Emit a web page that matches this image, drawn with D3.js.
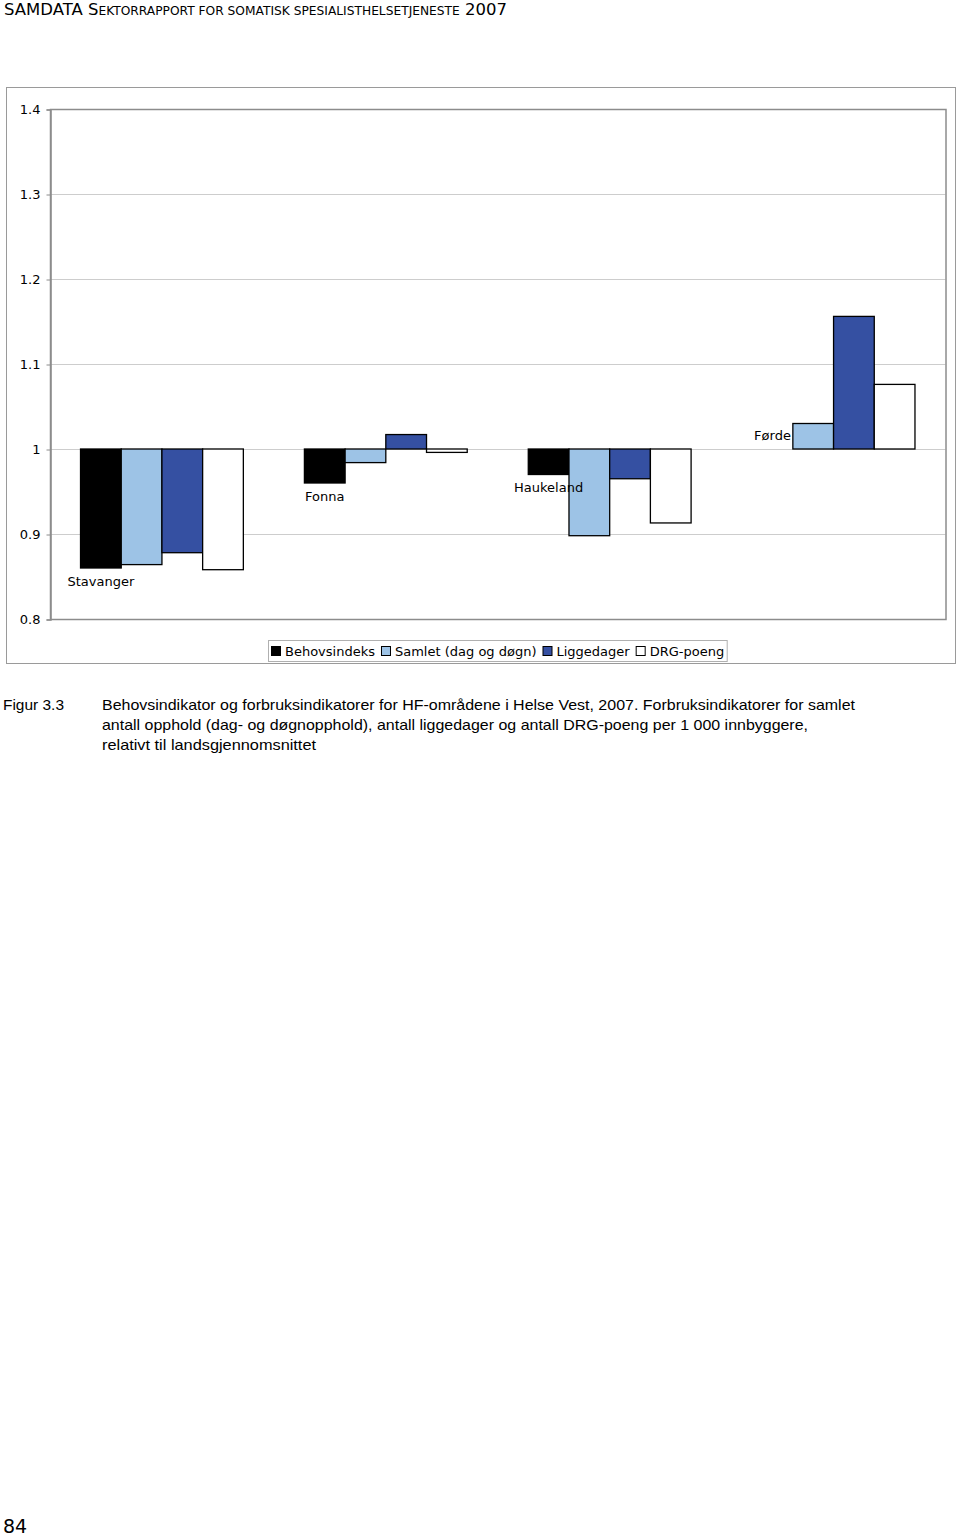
<!DOCTYPE html>
<html>
<head>
<meta charset="utf-8">
<script src="https://cdn.jsdelivr.net/npm/d3@7"></script>
<style>
  html, body { margin: 0; padding: 0; background: #fff; }
  svg { display: block; }
</style>
</head>
<body>
<script>
// ---- data ----
const categories = ["Stavanger", "Fonna", "Haukeland", "Førde"];
const seriesNames = ["Behovsindeks", "Samlet (dag og døgn)", "Liggedager", "DRG-poeng"];
const behovsindeks = [0.860, 0.960, 0.970, 1.000];
const samlet       = [0.864, 0.984, 0.898, 1.030];
const liggedager   = [0.878, 1.017, 0.965, 1.156];
const drgPoeng     = [0.858, 0.996, 0.913, 1.076];
const yTicks = [0.8, 0.9, 1, 1.1, 1.2, 1.3, 1.4];
const yTickLabels = ["0.8", "0.9", "1", "1.1", "1.2", "1.3", "1.4"];
const seriesColors = ["#000000", "#9dc3e6", "#3550a2", "#ffffff"];

const headerText = ["SAMDATA S", "EKTORRAPPORT FOR SOMATISK SPESIALISTHELSETJENESTE", " 2007"];
const captionLabel = "Figur 3.3";
const captionLines = [
  "Behovsindikator og forbruksindikatorer for HF-områdene i Helse Vest, 2007. Forbruksindikatorer for samlet",
  "antall opphold (dag- og døgnopphold), antall liggedager og antall DRG-poeng per 1 000 innbyggere,",
  "relativt til landsgjennomsnittet"
];
const pageNumber = "84";

const seriesValues = [behovsindeks, samlet, liggedager, drgPoeng];

// ---- layout ----
const W = 960, H = 1537;
const svg = d3.select("body").append("svg").attr("width", W).attr("height", H);
svg.append("rect").attr("width", W).attr("height", H).attr("fill", "#fff");

const font = "'DejaVu Sans', Verdana, sans-serif";

// header
const hdr = svg.append("text").attr("x", 4).attr("y", 15)
  .attr("font-family", font).attr("fill", "#000")
  .attr("textLength", 503).attr("lengthAdjust", "spacingAndGlyphs");
hdr.append("tspan").attr("font-size", 15.5).text(headerText[0]);
hdr.append("tspan").attr("font-size", 11.5).text(headerText[1]);
hdr.append("tspan").attr("font-size", 15.5).text(headerText[2]);

// chart outer box
svg.append("rect").attr("x", 6.5).attr("y", 87.5).attr("width", 949).attr("height", 576)
  .attr("fill", "#fff").attr("stroke", "#9a9a9a").attr("stroke-width", 1);

const plot = { left: 50, right: 945.5, top: 109, bottom: 619 };

const y = d3.scaleLinear().domain([0.8, 1.4]).range([plot.bottom, plot.top]);
const x0 = d3.scaleBand().domain(categories).range([plot.left, plot.right]).paddingInner(0).paddingOuter(0);
// Excel gap width 150%: band = 4 bars + 1.5 bar
const barW = x0.bandwidth() / 5.5;
const x1 = d3.scaleBand().domain(d3.range(4)).range([0.75 * barW, 4.75 * barW]).padding(0);

const g = svg.append("g");

// gridlines
g.selectAll("line.grid").data(yTicks).join("line")
  .attr("x1", plot.left).attr("x2", plot.right)
  .attr("y1", d => Math.round(y(d)) + 0.5).attr("y2", d => Math.round(y(d)) + 0.5)
  .attr("stroke", "#cdcdcd").attr("stroke-width", 1.2);

// plot border
g.append("rect").attr("x", plot.left + 0.5).attr("y", plot.top + 0.5)
  .attr("width", plot.right - plot.left).attr("height", plot.bottom - plot.top)
  .attr("fill", "none").attr("stroke", "#8c8c8c").attr("stroke-width", 1.5);

// y axis
const yAxis = d3.axisLeft(y).tickValues(yTicks).tickFormat((d, i) => yTickLabels[i])
  .tickSize(4).tickPadding(6);
const ax = svg.append("g").attr("transform", `translate(${plot.left + 0.5},0.5)`).call(yAxis);
ax.select(".domain").attr("stroke", "#8c8c8c").attr("stroke-width", 1.5);
ax.selectAll(".tick line").attr("stroke", "#8c8c8c");
ax.selectAll(".tick text").attr("font-family", font).attr("font-size", 13).attr("fill", "#000");

// bars
const base = y(1);
categories.forEach((cat, ci) => {
  seriesValues.forEach((vals, si) => {
    const v = vals[ci];
    const yv = y(v);
    g.append("rect")
      .attr("x", x0(cat) + x1(si))
      .attr("y", Math.min(yv, base))
      .attr("width", x1.bandwidth())
      .attr("height", Math.abs(yv - base))
      .attr("fill", seriesColors[si])
      .attr("stroke", "#000").attr("stroke-width", 1.3);
  });
  // category data label on Behovsindeks bar
  const v = behovsindeks[ci];
  const yv = y(v);
  const ly = v < 1 ? yv + 13 : yv - 14;
  g.append("text")
    .attr("x", x0(cat) + x1(0) + x1.bandwidth() / 2)
    .attr("y", ly)
    .attr("dy", "0.35em")
    .attr("text-anchor", "middle")
    .attr("font-family", font).attr("font-size", 13).attr("fill", "#000")
    .text(cat);
});

// legend
const leg = svg.append("g");
const legBox = leg.append("rect").attr("y", 640.5).attr("height", 21)
  .attr("fill", "#fff").attr("stroke", "#b0b0b0").attr("stroke-width", 1);
let lx = 271;
seriesNames.forEach((name, i) => {
  leg.append("rect").attr("x", lx + 0.5).attr("y", 646.5).attr("width", 9).attr("height", 9)
    .attr("fill", seriesColors[i]).attr("stroke", "#000").attr("stroke-width", 1);
  const t = leg.append("text").attr("x", lx + 14).attr("y", 651).attr("dy", "0.35em")
    .attr("font-family", font).attr("font-size", 13).attr("fill", "#000").text(name);
  const w = t.node().getComputedTextLength();
  lx += 14 + w + 6;
});
legBox.attr("x", 268.5).attr("width", lx - 6 + 3 - 268.5);

// caption
const capFont = "'Liberation Sans', Arial, sans-serif";
svg.append("text").attr("x", 3).attr("y", 710)
  .attr("font-family", capFont).attr("font-size", 15).attr("fill", "#000")
  .attr("textLength", 61).attr("lengthAdjust", "spacingAndGlyphs")
  .text(captionLabel);
const capWidths = [753, 706, 214];
captionLines.forEach((line, i) => {
  svg.append("text").attr("x", 102).attr("y", 710 + i * 20)
    .attr("font-family", capFont).attr("font-size", 15).attr("fill", "#000")
    .attr("textLength", capWidths[i]).attr("lengthAdjust", "spacingAndGlyphs")
    .text(line);
});

// page number
svg.append("text").attr("x", 3).attr("y", 1533)
  .attr("font-family", font).attr("font-size", 19).attr("fill", "#000")
  .text(pageNumber);
</script>
</body>
</html>
